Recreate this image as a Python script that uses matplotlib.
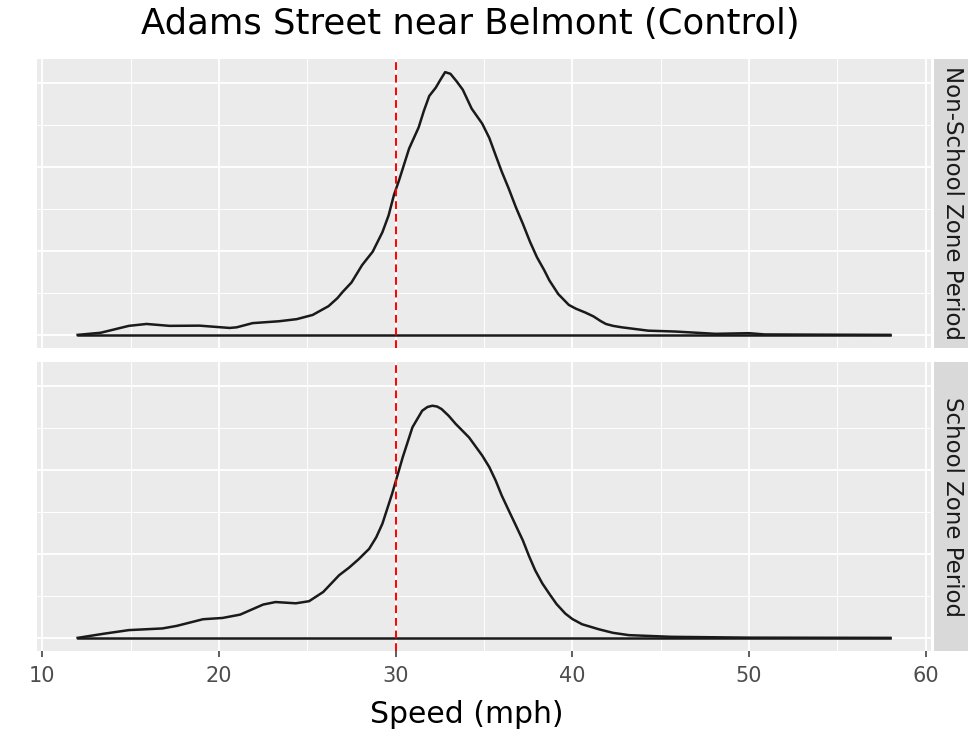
import matplotlib
matplotlib.use("Agg")
import matplotlib.pyplot as plt
from matplotlib.ticker import MultipleLocator

# Density curves (speed in mph, density)
non_school_speed = [12.0, 13.3, 14.9, 15.9, 17.2, 18.9, 20.6, 21.0, 21.9, 23.4, 24.4,
                    25.3, 26.2, 26.7, 27.0, 27.5, 28.1, 28.7, 29.25, 29.6, 29.9, 30.2,
                    30.76, 31.3, 31.6, 31.9, 32.27, 32.55, 32.8, 33.1, 33.45, 33.8, 34.3,
                    34.9, 35.3, 35.66, 36.0, 36.4, 36.8, 37.2, 37.6, 38.0, 38.4, 38.7,
                    39.2, 39.8, 40.2, 40.75, 41.2, 41.6, 41.9, 42.3, 42.8, 44.3, 45.8,
                    48.1, 50.0, 50.9, 54.0, 58.0]
non_school_density = [0.0, 0.001, 0.0043, 0.0052, 0.0043, 0.0044, 0.0033, 0.0036, 0.0056,
                      0.0065, 0.0075, 0.0095, 0.0137, 0.0175, 0.0205, 0.025, 0.0333,
                      0.0397, 0.049, 0.057, 0.0667, 0.074, 0.0889, 0.099, 0.107, 0.114,
                      0.118, 0.122, 0.1254, 0.1246, 0.121, 0.117, 0.108, 0.1008, 0.094,
                      0.0857, 0.078, 0.0698, 0.061, 0.053, 0.0445, 0.037, 0.031, 0.026,
                      0.0195, 0.0143, 0.0125, 0.0106, 0.0088, 0.0066, 0.0052, 0.0043,
                      0.0036, 0.002, 0.0016, 0.0005, 0.0008, 0.0002, 0.0001, 0.0]

school_speed = [12.0, 13.5, 14.9, 16.8, 17.6, 19.1, 20.2, 21.2, 22.5, 23.2, 24.35, 25.1,
                25.9, 26.8, 27.36, 27.9, 28.5, 28.9, 29.25, 29.8, 30.4, 30.95, 31.5,
                31.8, 32.08, 32.35, 32.6, 33.0, 33.4, 34.15, 34.9, 35.3, 35.66, 36.0,
                36.4, 36.8, 37.2, 37.55, 37.9, 38.3, 38.7, 39.1, 39.6, 40.0, 40.55,
                41.5, 42.3, 43.2, 45.6, 50.0, 58.0]
school_density = [0.0, 0.002, 0.0037, 0.0045, 0.0057, 0.0089, 0.0095, 0.0111, 0.0159,
                  0.0171, 0.0165, 0.0175, 0.0219, 0.0299, 0.0335, 0.0375, 0.0425, 0.048,
                  0.0545, 0.0688, 0.0862, 0.1005, 0.1084, 0.1102, 0.1108, 0.1104, 0.1092,
                  0.106, 0.1021, 0.0957, 0.087, 0.0815, 0.0751, 0.068, 0.0608, 0.0537,
                  0.0465, 0.039, 0.0322, 0.026, 0.021, 0.0162, 0.0116, 0.009, 0.0065,
                  0.0041, 0.0024, 0.0013, 0.0005, 0.0001, 0.0]

panels = [("Non-School Zone Period", non_school_speed, non_school_density),
          ("School Zone Period", school_speed, school_density)]
speed_limit = 30
x_ticks = [10, 20, 30, 40, 50, 60]

W, H = 968, 746
fig = plt.figure(figsize=(W / 100, H / 100), dpi=100)

# shared scales like facet_grid
x_lo, x_hi = 12.0, 58.0
x_pad = (x_hi - x_lo) * 0.05
y_max = max(max(non_school_density), max(school_density))
y_pad = y_max * 0.05

panel_left, panel_right = 37, 931
tops = [59, 362]
panel_h = 289

for i, (label, xs, ys) in enumerate(panels):
    top = tops[i]
    ax = fig.add_axes([panel_left / W, 1 - (top + panel_h) / H,
                       (panel_right - panel_left) / W, panel_h / H])
    ax.set_facecolor("#EBEBEB")
    for s in ax.spines.values():
        s.set_visible(False)
    ax.set_xlim(x_lo - x_pad, x_hi + x_pad)
    ax.set_ylim(-y_pad, y_max + y_pad)
    ax.xaxis.set_major_locator(MultipleLocator(10))
    ax.xaxis.set_minor_locator(MultipleLocator(5))
    ax.yaxis.set_major_locator(MultipleLocator(0.04))
    ax.yaxis.set_minor_locator(MultipleLocator(0.02))
    ax.grid(which="major", color="white", linewidth=1.3)
    ax.grid(which="minor", color="white", linewidth=0.7)
    ax.set_axisbelow(True)
    ax.tick_params(axis="y", which="both", left=False, labelleft=False)
    ax.tick_params(axis="x", which="minor", bottom=False)
    if i == 0:
        ax.tick_params(axis="x", which="major", bottom=False, labelbottom=False)
    else:
        ax.set_xticks(x_ticks)
        ax.tick_params(axis="x", which="major", length=4, width=1.1,
                       color="#333333", labelcolor="#4D4D4D", labelsize=15, pad=7)
        ax.set_xlabel("Speed (mph)", fontsize=21.5)
        ax.xaxis.set_label_coords((467 - panel_left) / (panel_right - panel_left), -0.168)

    ax.plot(xs, ys, color="#1A1A1A", linewidth=1.8, solid_joinstyle="round")
    ax.plot([xs[0], xs[-1]], [0, 0], color="#1A1A1A", linewidth=1.8)
    ax.axvline(speed_limit, color="red", linestyle=(0, (4, 2.5)), linewidth=1.4)

    # facet strip on the right
    sax = fig.add_axes([934 / W, 1 - (top + panel_h) / H, 36 / W, panel_h / H])
    sax.set_facecolor("#D9D9D9")
    sax.set_xticks([])
    sax.set_yticks([])
    for s in sax.spines.values():
        s.set_visible(False)
    sax.text(0.5, 0.5, label, rotation=-90, ha="center", va="center",
             fontsize=16.5, color="#1A1A1A", transform=sax.transAxes)

fig.text(470 / W, 1 - 24 / H, "Adams Street near Belmont (Control)",
         ha="center", va="center", fontsize=25.5, color="black")

fig.savefig("out.png", dpi=100)
